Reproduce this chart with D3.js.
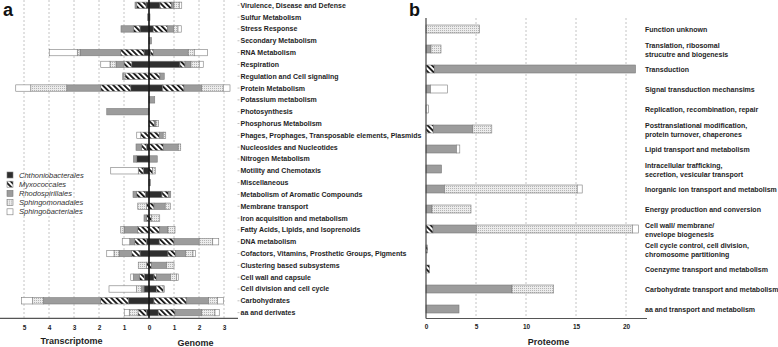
<!DOCTYPE html>
<html>
<head>
<meta charset="utf-8">
<script src="https://cdn.jsdelivr.net/npm/d3@7"></script>
<style>
  body { margin: 0; background: #fff; }
  svg { display: block; font-family: "Liberation Sans", Arial, sans-serif; opacity: 0.999; }
</style>
</head>
<body>
<div id="chart"></div>
<script>
// data, panel a (subsystems), top to bottom

var leftCats = ["Virulence, Disease and Defense", "Sulfur Metabolism", "Stress Response", "Secondary Metabolism",
  "RNA Metabolism", "Respiration", "Regulation and Cell signaling", "Protein Metabolism", "Potassium metabolism",
  "Photosynthesis", "Phosphorus Metabolism", "Phages, Prophages, Transposable elements, Plasmids",
  "Nucleosides and Nucleotides", "Nitrogen Metabolism", "Motility and Chemotaxis", "Miscellaneous",
  "Metabolism of Aromatic Compounds", "Membrane transport", "Iron acquisition and metabolism",
  "Fatty Acids, Lipids, and Isoprenoids", "DNA metabolism", "Cofactors, Vitamins, Prosthetic Groups, Pigments",
  "Clustering based subsystems", "Cell wall and capsule", "Cell division and cell cycle", "Carbohydrates",
  "aa and derivates"];

var seriesNames = ["Chthoniobacterales", "Myxococcales", "Rhodospirillales", "Sphingomonadales", "Sphingobacteriales"];
var keys = ["chth", "myxo", "rhod", "sphm", "sphb"];

// transcriptome (drawn to the left)
var chthT = [0.12,0,0.36,0,0.2,0.69,0,0.73,0,0,0,0,0.1,0.49,0.23,0,0.15,0,0,0,0.1,0.36,0,0.19,0.2,0.83,0.1];
var myxoT = [0.37,0,0.27,0,0.93,0.31,0.96,1.2,0,0,0,0.33,0.2,0,0.2,0,0.36,0.1,0.1,0.45,0.47,0.33,0.1,0.2,0,1.11,0.34];
var rhodT = [0.07,0.06,0.49,0,1.63,0.32,0,1.36,0,1.69,0,0,0.22,0.13,0,0,0.13,0,0.1,0.55,0.2,0.51,0,0.24,0.1,2.29,0];
var sphmT = [0,0,0,0,0.11,0.24,0.07,1.44,0,0,0,0,0,0,0,0,0,0.35,0,0.13,0,0.2,0.33,0,0.2,0.43,0.35];
var sphbT = [0,0,0,0,1.12,0.37,0.03,0.6,0,0,0,0.16,0,0,1.1,0,0,0,0,0,0.3,0.29,0,0.1,1.1,0.44,0.2];

// genome (drawn to the right)
var chthG = [0.44,0,0.17,0,0.06,1.24,0,0.55,0,0,0,0,0,0,0,0,0.52,0,0,0,0.41,0.76,0,0.2,0.3,0.2,0.37];
var myxoG = [0.47,0,0.57,0,0.11,0.2,0.44,0.85,0,0,0.23,0.41,0.57,0,0.15,0,0.25,0.2,0.1,0.43,0.59,0.31,0.1,0.1,0.27,1.31,0.67];
var rhodG = [0.09,0.04,0.25,0.1,1.4,0.24,0.17,0.71,0.23,0,0.05,0.16,0.6,0.33,0,0.06,0.1,0.45,0,0.33,1.01,0.4,0.6,0.56,0,0.87,1.07];
var sphmG = [0.21,0,0.17,0,0.24,0.33,0,0.86,0,0,0.1,0.1,0.1,0,0.1,0,0,0.2,0.33,0.28,0.54,0.29,0.3,0.24,0,0.36,0.53];
var sphbG = [0.1,0,0.13,0,0.53,0.16,0,0.27,0,0,0,0,0,0,0,0,0,0,0,0,0.24,0.1,0,0.07,0.05,0.24,0.17];

var transTicks = [5, 4, 3, 2, 1, 0];
var genomeTicks = [1, 2, 3];

// data, panel b (COG), top to bottom

var rightCats = [["Function unknown"], ["Translation, ribosomal", "strucutre and biogenesis"], ["Transduction"],
  ["Signal transduction mechansims"], ["Replication, recombination, repair"],
  ["Posttranslational modification,", "protein turnover, chaperones"], ["Lipid transport and metabolism"],
  ["Intracellular trafficking,", "secretion, vesicular transport"], ["Inorganic ion transport and metabolism"],
  ["Energy production and conversion"], ["Cell wall/ membrane/", "envelope biogenesis"],
  ["Cell cycle control, cell division,", "chromosome partitioning"], ["Coenzyme transport and metabolism"],
  ["Carbohydrate transport and metabolism"], ["aa and transport and metabolism"]];

var chthP = [0,0,0,0,0,0,0,0,0,0,0,0,0,0,0];
var myxoP = [0,0,0.85,0,0,0.75,0,0,0,0,0.7,0.15,0.35,0,0];
var rhodP = [0,0.5,20.1,0.45,0,3.93,3.05,1.55,1.85,0.6,4.33,0,0,8.6,3.3];
var sphmP = [5.35,1.0,0,0,0,1.9,0,0,13.27,3.9,15.6,0,0,4.17,0];
var sphbP = [0,0,0,1.7,0.25,0,0.33,0,0.5,0,0.6,0,0,0,0];

var protTicks = [0, 5, 10, 15, 20];

// svg

var svg = d3.select("#chart").append("svg")
  .attr("width", 778)
  .attr("height", 347);

svg.append("rect").attr("width", 778).attr("height", 347).attr("fill", "#fff");

var defs = svg.append("defs");

var hatch = defs.append("pattern")
  .attr("id", "hatch")
  .attr("patternUnits", "userSpaceOnUse")
  .attr("width", 3.8)
  .attr("height", 3.8)
  .attr("patternTransform", "rotate(-45)");
hatch.append("rect").attr("width", 3.8).attr("height", 3.8).attr("fill", "#fff");
hatch.append("rect").attr("width", 1.8).attr("height", 3.8).attr("fill", "#111");

var dots = defs.append("pattern")
  .attr("id", "dots")
  .attr("patternUnits", "userSpaceOnUse")
  .attr("width", 2)
  .attr("height", 2);
dots.append("rect").attr("width", 2).attr("height", 2).attr("fill", "#ececec");
dots.append("rect").attr("width", 1).attr("height", 1).attr("fill", "#b4b4b4");

var fills = {chth: "#2e2e2e", myxo: "url(#hatch)", rhod: "#9c9c9c", sphm: "url(#dots)", sphb: "#ffffff"};

function buildRows(cats, arrs) {
  return cats.map(function (c, i) {
    var r = {cat: i};
    keys.forEach(function (k, j) { r[k] = arrs[j][i]; });
    return r;
  });
}

var stack = d3.stack().keys(keys);

// ---------- panel a ----------

var zeroX = 149;
var tx = d3.scaleLinear().domain([0, 5]).range([zeroX, zeroX - 125]);
var gx = d3.scaleLinear().domain([0, 3]).range([zeroX, zeroX + 75]);
var ly = d3.scaleBand().domain(d3.range(leftCats.length))
  .range([-0.6, -0.6 + 27 * 11.82]).paddingInner(0.46).paddingOuter(0.23);
var axisYa = 318.3;

var pa = svg.append("g");

// dashed grid
pa.selectAll("line.gridT").data(transTicks.filter(function (d) { return d > 0; }))
  .enter().append("line")
  .attr("x1", function (d) { return tx(d); }).attr("x2", function (d) { return tx(d); })
  .attr("y1", 0).attr("y2", axisYa)
  .attr("stroke", "#c4c4c4").attr("stroke-dasharray", "2,2");
pa.selectAll("line.gridG").data(genomeTicks)
  .enter().append("line")
  .attr("x1", function (d) { return gx(d); }).attr("x2", function (d) { return gx(d); })
  .attr("y1", 0).attr("y2", axisYa)
  .attr("stroke", "#c4c4c4").attr("stroke-dasharray", "2,2");

var rowsT = buildRows(leftCats, [chthT, myxoT, rhodT, sphmT, sphbT]);
var rowsG = buildRows(leftCats, [chthG, myxoG, rhodG, sphmG, sphbG]);

var layersT = pa.selectAll("g.lt").data(stack(rowsT)).enter().append("g")
  .attr("fill", function (d) { return fills[d.key]; });
layersT.selectAll("rect").data(function (d) { return d.filter(function (s) { return s[1] - s[0] > 0; }); })
  .enter().append("rect")
  .attr("x", function (d) { return tx(d[1]); })
  .attr("width", function (d) { return tx(d[0]) - tx(d[1]); })
  .attr("y", function (d) { return ly(d.data.cat); })
  .attr("height", ly.bandwidth())
  .attr("stroke", "#7a7a7a").attr("stroke-width", 0.6);

var layersG = pa.selectAll("g.lg").data(stack(rowsG)).enter().append("g")
  .attr("fill", function (d) { return fills[d.key]; });
layersG.selectAll("rect").data(function (d) { return d.filter(function (s) { return s[1] - s[0] > 0; }); })
  .enter().append("rect")
  .attr("x", function (d) { return gx(d[0]); })
  .attr("width", function (d) { return gx(d[1]) - gx(d[0]); })
  .attr("y", function (d) { return ly(d.data.cat); })
  .attr("height", ly.bandwidth())
  .attr("stroke", "#7a7a7a").attr("stroke-width", 0.6);

// zero line and bottom line
pa.append("line").attr("x1", zeroX).attr("x2", zeroX).attr("y1", 0).attr("y2", axisYa)
  .attr("stroke", "#111").attr("stroke-width", 1.6);
pa.append("line").attr("x1", 0).attr("x2", 238).attr("y1", axisYa).attr("y2", axisYa)
  .attr("stroke", "#555").attr("stroke-width", 1.2);

// x axes
var axT = pa.append("g").attr("transform", "translate(0," + (axisYa + 4) + ")")
  .call(d3.axisBottom(tx).tickValues(transTicks).tickSize(0).tickFormat(d3.format("d")));
var axG = pa.append("g").attr("transform", "translate(0," + (axisYa + 4) + ")")
  .call(d3.axisBottom(gx).tickValues(genomeTicks).tickSize(0).tickFormat(d3.format("d")));
[axT, axG].forEach(function (a) {
  a.select(".domain").remove();
  a.selectAll("text").attr("font-size", 6.5).attr("font-weight", "bold").attr("fill", "#222")
    .attr("font-family", "Liberation Sans, Arial, sans-serif");
});

// category ticks + labels
pa.selectAll("line.ct").data(leftCats).enter().append("line")
  .attr("x1", 237.5).attr("x2", 239.5)
  .attr("y1", function (d, i) { return ly(i) + ly.bandwidth() / 2; })
  .attr("y2", function (d, i) { return ly(i) + ly.bandwidth() / 2; })
  .attr("stroke", "#c0c0c0");
pa.selectAll("text.cl").data(leftCats).enter().append("text")
  .attr("x", 240.5)
  .attr("y", function (d, i) { return ly(i) + ly.bandwidth() / 2; })
  .attr("dy", "0.35em")
  .attr("font-size", 7).attr("font-weight", "bold").attr("fill", "#1e1e1e")
  .text(function (d) { return d; });

// titles
pa.append("text").attr("x", 71.5).attr("y", 344.3).attr("text-anchor", "middle")
  .attr("font-size", 9).attr("font-weight", "bold").attr("fill", "#1e1e1e").text("Transcriptome");
pa.append("text").attr("x", 195.5).attr("y", 345.5).attr("text-anchor", "middle")
  .attr("font-size", 9).attr("font-weight", "bold").attr("fill", "#1e1e1e").text("Genome");
pa.append("text").attr("x", 3).attr("y", 15.5)
  .attr("font-size", 18).attr("font-weight", "bold").attr("fill", "#111").text("a");

// legend
var legend = pa.selectAll("g.leg").data(keys).enter().append("g")
  .attr("transform", function (d, i) { return "translate(7," + (175 + i * 9.2) + ")"; });
legend.append("rect").attr("x", 0).attr("y", -3).attr("width", 6).attr("height", 6)
  .attr("fill", function (d) { return fills[d]; })
  .attr("stroke", "#7a7a7a").attr("stroke-width", 0.6);
legend.append("text").attr("x", 12).attr("y", 0).attr("dy", "0.35em")
  .attr("font-size", 7.5).attr("font-style", "italic").attr("fill", "#333")
  .text(function (d, i) { return seriesNames[i]; });

// ---------- panel b ----------

var px = d3.scaleLinear().domain([0, 20]).range([426, 626]);
var py = d3.scaleBand().domain(d3.range(rightCats.length))
  .range([19, 319]).paddingInner(0.6).paddingOuter(0.3);
var axisYb = 318.5;

var pb = svg.append("g");

pb.selectAll("line.gridP").data(protTicks.filter(function (d) { return d > 0; }))
  .enter().append("line")
  .attr("x1", function (d) { return px(d); }).attr("x2", function (d) { return px(d); })
  .attr("y1", 18).attr("y2", axisYb)
  .attr("stroke", "#c4c4c4").attr("stroke-dasharray", "2,2");

var rowsP = buildRows(rightCats, [chthP, myxoP, rhodP, sphmP, sphbP]);
var layersP = pb.selectAll("g.lp").data(stack(rowsP)).enter().append("g")
  .attr("fill", function (d) { return fills[d.key]; });
layersP.selectAll("rect").data(function (d) { return d.filter(function (s) { return s[1] - s[0] > 0; }); })
  .enter().append("rect")
  .attr("x", function (d) { return px(d[0]); })
  .attr("width", function (d) { return px(d[1]) - px(d[0]); })
  .attr("y", function (d) { return py(d.data.cat); })
  .attr("height", py.bandwidth())
  .attr("stroke", "#7a7a7a").attr("stroke-width", 0.6);

pb.append("line").attr("x1", 426).attr("x2", 426).attr("y1", 18).attr("y2", axisYb)
  .attr("stroke", "#444").attr("stroke-width", 1.2);
pb.append("line").attr("x1", 426).attr("x2", 647).attr("y1", axisYb).attr("y2", axisYb)
  .attr("stroke", "#555").attr("stroke-width", 1.2);

var axP = pb.append("g").attr("transform", "translate(0," + (axisYb + 3) + ")")
  .call(d3.axisBottom(px).tickValues(protTicks).tickSize(0));
axP.select(".domain").remove();
axP.selectAll("text").attr("font-size", 6.5).attr("font-weight", "bold").attr("fill", "#222")
  .attr("font-family", "Liberation Sans, Arial, sans-serif");

var rl = pb.selectAll("text.rl").data(rightCats).enter().append("text")
  .attr("x", 645)
  .attr("y", function (d, i) { return py(i) + py.bandwidth() / 2 + 1; })
  .attr("font-size", 7).attr("font-weight", "bold").attr("fill", "#1e1e1e");
rl.selectAll("tspan").data(function (d) { return d.map(function (t, j) { return {t: t, j: j, n: d.length}; }); })
  .enter().append("tspan")
  .attr("x", 645)
  .attr("dy", function (d) { return d.j === 0 ? (0.35 - (d.n - 1) * 0.62) + "em" : "1.24em"; })
  .text(function (d) { return d.t; });

pb.append("text").attr("x", 548.5).attr("y", 345).attr("text-anchor", "middle")
  .attr("font-size", 9).attr("font-weight", "bold").attr("fill", "#1e1e1e").text("Proteome");
pb.append("text").attr("x", 409).attr("y", 15.5)
  .attr("font-size", 18).attr("font-weight", "bold").attr("fill", "#111").text("b");
</script>
</body>
</html>
